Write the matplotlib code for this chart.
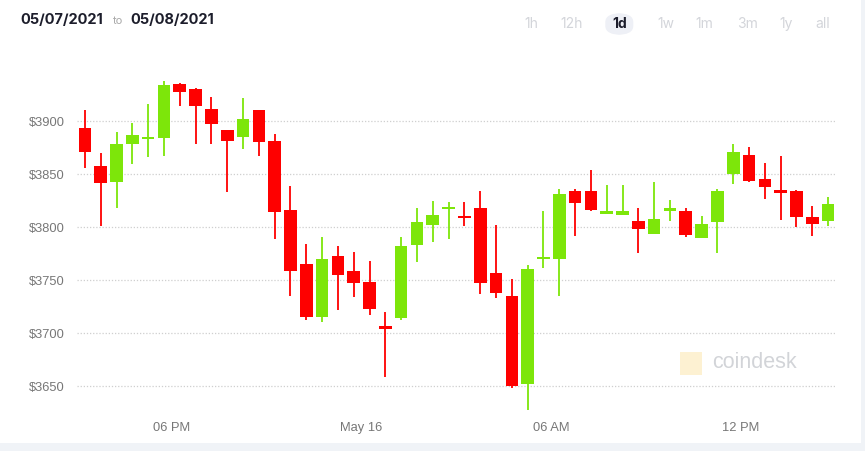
import matplotlib
matplotlib.use("Agg")
import matplotlib.pyplot as plt
from matplotlib.patches import FancyBboxPatch, Rectangle

# 30-minute candles, ETH price, 05/07/2021 -> 05/08/2021 view
opens = [3894, 3858, 3843, 3879, 3883, 3884, 3935, 3930, 3912, 3892,
         3885, 3911, 3881, 3816, 3765, 3715, 3773, 3759, 3748, 3707,
         3714, 3783, 3802, 3817, 3811, 3818, 3757, 3735, 3652, 3770,
         3770, 3834, 3834, 3813, 3812, 3806, 3794, 3815, 3815, 3790,
         3805, 3850, 3868, 3846, 3835, 3834, 3810, 3806]
closes = [3871, 3842, 3879, 3887, 3885, 3934, 3928, 3914, 3897, 3881,
          3902, 3880, 3814, 3759, 3715, 3770, 3755, 3747, 3723, 3704,
          3782, 3805, 3812, 3818, 3809, 3747, 3738, 3650, 3761, 3772,
          3831, 3823, 3816, 3815, 3815, 3798, 3808, 3818, 3793, 3803,
          3834, 3871, 3844, 3838, 3832, 3810, 3803, 3822]
highs = [3911, 3870, 3890, 3898, 3916, 3938, 3936, 3931, 3923, 3892,
         3922, 3911, 3888, 3839, 3784, 3791, 3782, 3777, 3768, 3720,
         3791, 3818, 3825, 3824, 3824, 3834, 3802, 3751, 3764, 3815,
         3836, 3836, 3854, 3840, 3840, 3818, 3843, 3826, 3818, 3811,
         3836, 3879, 3876, 3861, 3867, 3835, 3820, 3829]
lows = [3856, 3801, 3818, 3860, 3866, 3867, 3914, 3879, 3879, 3833,
        3874, 3867, 3789, 3735, 3713, 3711, 3722, 3734, 3717, 3659,
        3713, 3767, 3786, 3789, 3801, 3737, 3733, 3648, 3628, 3762,
        3735, 3792, 3815, 3813, 3812, 3776, 3794, 3806, 3791, 3790,
        3776, 3841, 3843, 3827, 3807, 3800, 3792, 3801]

# hours since 00:00 May 15, candle centres
times = [15.25 + 0.5 * i for i in range(len(opens))]

y_ticks = [3650, 3700, 3750, 3800, 3850, 3900]
y_labels = ["$3650", "$3700", "$3750", "$3800", "$3850", "$3900"]
x_ticks = [18, 24, 30, 36]
x_labels = ["06 PM", "May 16", "06 AM", "12 PM"]
ranges = ["1h", "12h", "1d", "1w", "1m", "3m", "1y", "all"]

UP = "#7de60a"
DOWN = "#fe0000"

fig = plt.figure(figsize=(8.65, 4.51), dpi=100)
fig.patch.set_facecolor("white")

# card edges (light strips at bottom / right)
fig.patches.append(Rectangle((0, 0), 1, 8 / 451, transform=fig.transFigure,
                             facecolor="#f0f3f7", edgecolor="none", zorder=0))
fig.patches.append(Rectangle((861 / 865, 0), 4 / 865, 1, transform=fig.transFigure,
                             facecolor="#f0f3f7", edgecolor="none", zorder=0))

ax = fig.add_axes([77 / 865, 1 - 412 / 451, (836 - 77) / 865, 350 / 451])
ax.set_xlim(15.0, 39.0)
ax.set_ylim(3625.8, 3955.9)

for y in y_ticks:
    ax.axhline(y, color="#cfcfcf", lw=0.9, ls=(0, (1, 1.5)), zorder=1)

w = 0.40
for t, o, c, h, l in zip(times, opens, closes, highs, lows):
    col = UP if c >= o else DOWN
    ax.vlines(t, l, h, color=col, lw=1.3, zorder=2)
    lo = min(o, c)
    hgt = max(abs(c - o), 2.0)
    ax.bar(t, hgt, width=w, bottom=lo, color=col, edgecolor="none", zorder=3)

ax.set_yticks(y_ticks)
ax.set_yticklabels(y_labels)
ax.set_xticks(x_ticks)
ax.set_xticklabels(x_labels)
ax.tick_params(axis="both", length=0, colors="#777777", labelsize=9.3)
ax.tick_params(axis="y", pad=9)
ax.tick_params(axis="x", pad=7)
for lab in ax.get_xticklabels() + ax.get_yticklabels():
    lab.set_family("Liberation Sans")
for s in ax.spines.values():
    s.set_visible(False)
ax.set_facecolor("none")

# header
fig.text(20 / 865, 1 - 20 / 451, "05/07/2021", fontsize=10.5, fontweight="bold",
         color="#1c1d2b", family="Inter", va="center", ha="left")
fig.text(118 / 865, 1 - 21 / 451, "to", fontsize=8, color="#aaaaaa",
         family="Inter", va="center", ha="center")
fig.text(130 / 865, 1 - 20 / 451, "05/08/2021", fontsize=10.5, fontweight="bold",
         color="#1c1d2b", family="Inter", va="center", ha="left")

rx = [531.7, 571.7, 619.3, 665.7, 704, 747.3, 786, 822.3]
for lbl, x in zip(ranges, rx):
    if lbl == "1d":
        fig.patches.append(FancyBboxPatch(((x - 14) / 865, 1 - 35 / 451), 28 / 865, 22 / 451,
                                          boxstyle="round,pad=0,rounding_size=0.02",
                                          transform=fig.transFigure, facecolor="#eef0f6",
                                          edgecolor="none", zorder=1))
        fig.text(x / 865, 1 - 24 / 451, lbl, fontsize=10, fontweight="bold",
                 color="#1c1d2b", family="Inter", ha="center", va="center", zorder=2)
    else:
        fig.text(x / 865, 1 - 24 / 451, lbl, fontsize=10, color="#d3d5da",
                 family="Inter", ha="center", va="center")

# watermark
fig.patches.append(Rectangle((680 / 865, 1 - 375 / 451), 22 / 865, 23 / 451,
                             transform=fig.transFigure, facecolor="#fdf1d2",
                             edgecolor="none", zorder=1))
fig.text(754 / 865, 1 - 363 / 451, "coindesk", fontsize=15.5, color="#d2d4d8",
         family="Liberation Sans", ha="center", va="center")

fig.savefig("out.png", dpi=100, facecolor="white")
